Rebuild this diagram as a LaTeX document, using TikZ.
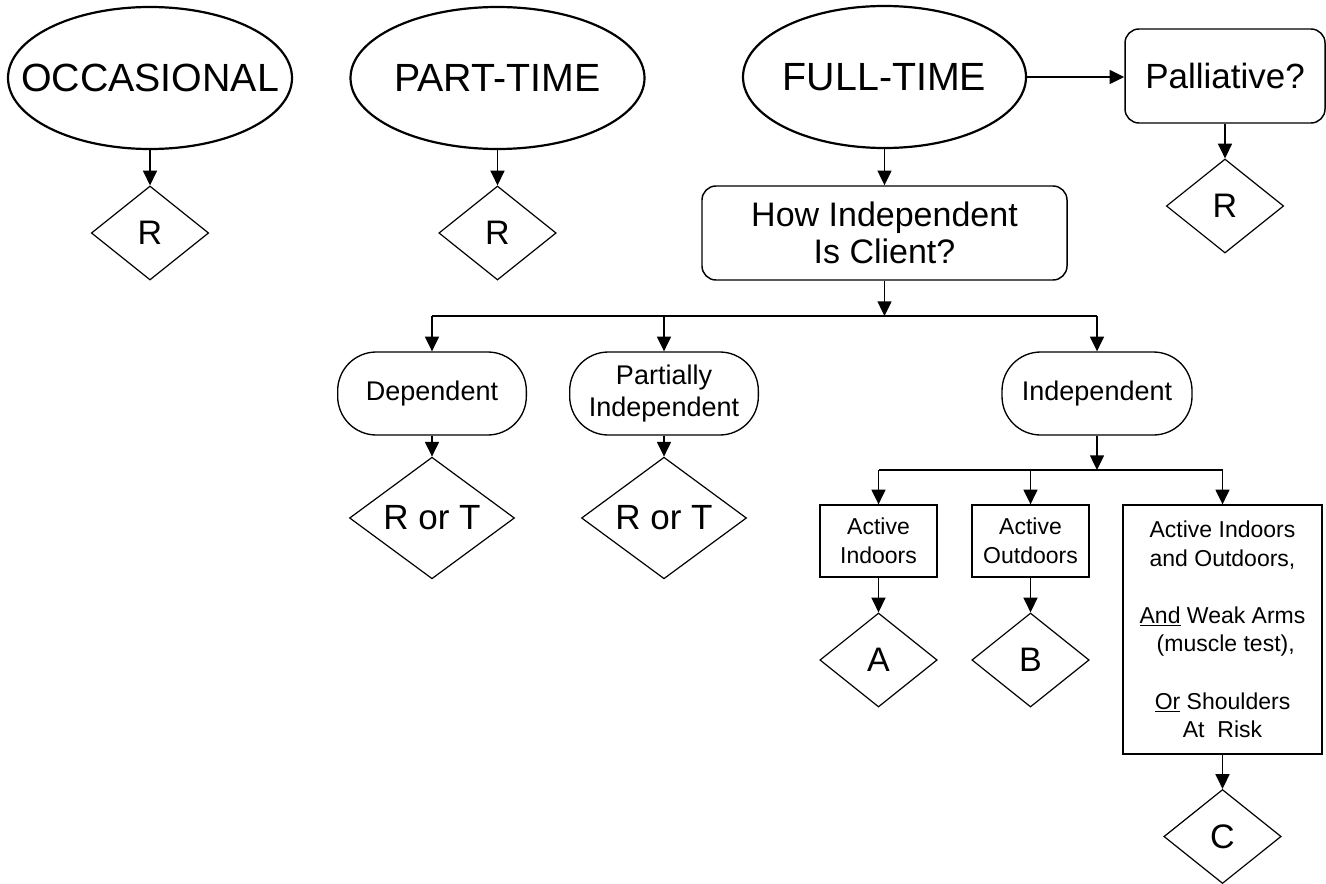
\documentclass[tikz,border=0pt]{standalone}
\usepackage{fontspec}
\setmainfont{Liberation Sans}
\usetikzlibrary{shapes.geometric,arrows.meta}
\begin{document}
\begin{tikzpicture}[x=0.75pt,y=-0.75pt,
  elli/.style={ellipse,draw,line width=1.65pt,inner sep=0pt,minimum height=106.5pt},
  bigtxt/.style={font=\fontsize{29.5}{33}\selectfont},
  rbox/.style={rectangle,draw,line width=1.1pt,rounded corners=10.5pt,inner sep=0pt,align=center,
    font=\fontsize{25.5}{27.75}\selectfont},
  stad/.style={rectangle,draw,line width=1pt,rounded corners=29pt,inner sep=0pt,align=center,
    minimum width=141.5pt,minimum height=62.25pt,font=\fontsize{20.25}{24}\selectfont},
  sbox/.style={rectangle,draw,line width=1pt,inner sep=0pt,align=center,
    font=\fontsize{17.25}{21.75}\selectfont},
  dia/.style={diamond,draw,line width=0.9pt,inner sep=0pt,minimum width=88pt,minimum height=70.5pt,
    font=\fontsize{25.5}{28}\selectfont},
  arr/.style={line width=1pt,-{Triangle[length=11pt,width=10.5pt]}},
  ln/.style={line width=1pt}]
\useasboundingbox (0,0) rectangle (1326,884);

% top row
\node[elli,minimum width=213pt,label={[bigtxt]center:OCCASIONAL}] (occ) at (150,78) {};
\node[elli,minimum width=220.5pt,label={[bigtxt]center:PART-TIME}] (part) at (497.5,78) {};
\node[elli,minimum width=212.25pt,label={[bigtxt]center:FULL-TIME}] (full) at (884.5,77) {};
\node[rbox,minimum width=150pt,minimum height=70.5pt,font=\fontsize{26.25}{28}\selectfont] (pall) at (1225,76) {Palliative?};

\node[dia] (r1) at (150,233) {R};
\node[dia] (r2) at (497.5,233) {R};
\node[dia] (r3) at (1225,206) {R};

\node[rbox,minimum width=273.75pt,minimum height=70.5pt] (how) at (884.5,233) {How Independent\\Is Client?};

% second level
\node[stad] (dep) at (432,393.5) {Dependent};
\node[stad] (pin) at (664,393.5) {Partially\\Independent};
\node[stad,minimum width=142.5pt] (ind) at (1097,393.5) {Independent};

\node[dia,minimum width=123.75pt,font=\fontsize{26.25}{28}\selectfont] (rt1) at (432,518) {R or T};
\node[dia,minimum width=123.75pt,font=\fontsize{26.25}{28}\selectfont] (rt2) at (664,518) {R or T};

% third level
\node[sbox,minimum width=87.75pt,minimum height=54pt] (ai) at (878.5,541) {Active\\Indoors};
\node[sbox,minimum width=87.75pt,minimum height=54pt] (ao) at (1030.5,541) {Active\\Outdoors};
\node[sbox,minimum width=149.25pt,minimum height=186.75pt,font=\fontsize{17.25}{21.4}\selectfont] (big) at (1222.5,629.5)
  {Active Indoors\\and Outdoors,\\[21.4pt]\underline{And} Weak Arms\\\ (muscle test),\\[21.4pt]\underline{Or} Shoulders\\At\ \ Risk};

\node[dia] (da) at (878.5,660) {A};
\node[dia] (db) at (1030.5,660) {B};
\node[dia] (dc) at (1222.5,836.5) {C};

% connectors
\draw[arr] (occ.south) -- (r1.north);
\draw[arr] (part.south) -- (r2.north);
\draw[arr] (full.east) -- (pall.west |- full.east);
\draw[arr] (pall.south) -- (r3.north);
\draw[arr] (full.south) -- (how.north);

\coordinate (y1) at (0,316);
\coordinate (j1) at (how.south |- y1);
\draw[arr] (how.south) -- (j1);
\draw[ln] (dep.north |- y1) -- (ind.north |- y1);
\draw[arr] (dep.north |- y1) -- (dep.north);
\draw[arr] (pin.north |- y1) -- (pin.north);
\draw[arr] (ind.north |- y1) -- (ind.north);

\draw[arr] (dep.south) -- (rt1.north);
\draw[arr] (pin.south) -- (rt2.north);

\coordinate (y2) at (0,470);
\coordinate (j2) at (ind.south |- y2);
\draw[arr] (ind.south) -- (j2);
\draw[ln] (ai.north |- y2) -- (big.north |- y2);
\draw[arr] (ai.north |- y2) -- (ai.north);
\draw[arr] (ao.north |- y2) -- (ao.north);
\draw[arr] (big.north |- y2) -- (big.north);

\draw[arr] (ai.south) -- (da.north);
\draw[arr] (ao.south) -- (db.north);
\draw[arr] (big.south) -- (dc.north);
\end{tikzpicture}
\end{document}
